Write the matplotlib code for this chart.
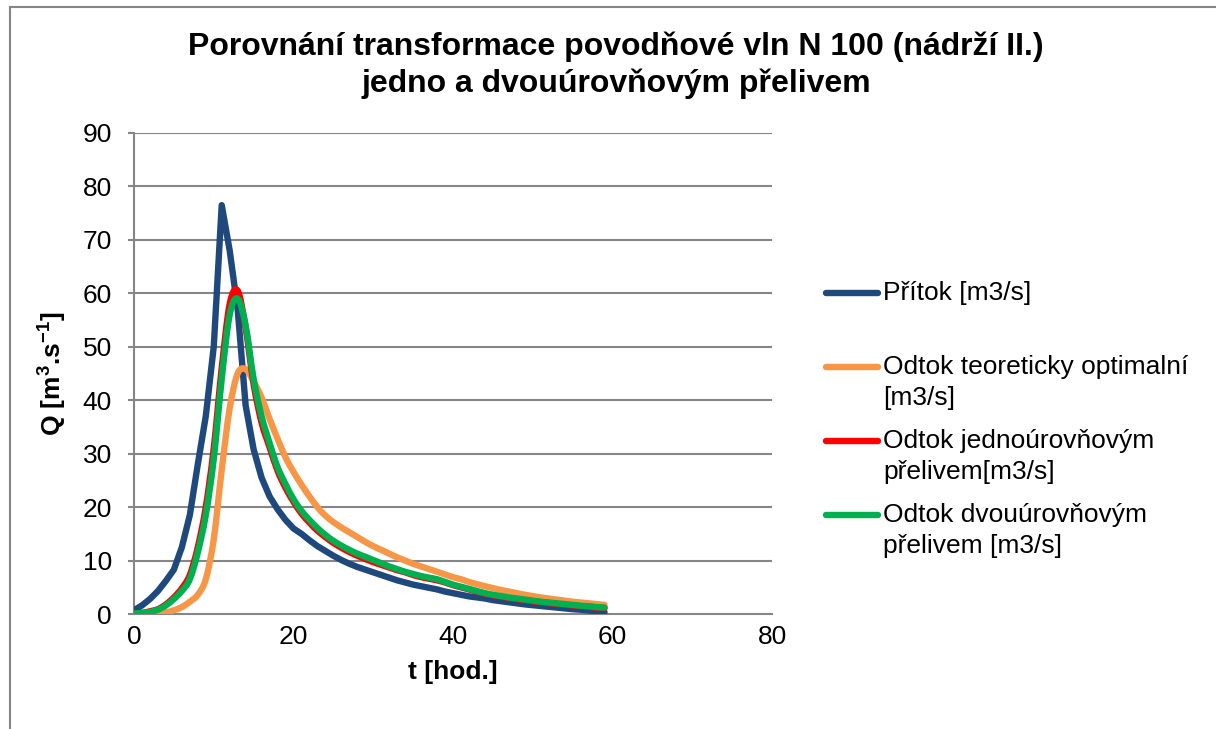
import matplotlib
matplotlib.use("Agg")
import matplotlib.pyplot as plt
from matplotlib.lines import Line2D
from matplotlib.path import Path
from matplotlib.patches import PathPatch

plt.rcParams['font.family'] = ['Liberation Sans', 'DejaVu Sans']
plt.rcParams['mathtext.fontset'] = 'custom'
plt.rcParams['mathtext.rm'] = 'Liberation Sans:bold'
plt.rcParams['mathtext.bf'] = 'Liberation Sans:bold'
plt.rcParams['mathtext.default'] = 'rm'

# hourly time axis [hod.]
t = list(range(60))

pritok = [0.7, 1.6, 2.8, 4.3, 6.2, 8.3, 12.5, 18.5, 28.0, 37.0,
          50.0, 76.5, 68.0, 57.0, 39.0, 30.8, 25.5, 22.0, 19.6, 17.6,
          16.0, 15.0, 13.8, 12.7, 11.8, 10.9, 10.1, 9.4, 8.8, 8.3,
          7.8, 7.3, 6.8, 6.3, 5.9, 5.5, 5.2, 4.9, 4.6, 4.2,
          3.9, 3.6, 3.3, 3.1, 2.9, 2.6, 2.4, 2.2, 2.0, 1.8,
          1.65, 1.5, 1.35, 1.2, 1.05, 0.9, 0.8, 0.65, 0.5, 0.35]

odtok_opt = [0.0, 0.0, 0.05, 0.15, 0.3, 0.7, 1.3, 2.3, 3.6, 6.5,
             14.0, 27.0, 38.5, 45.0, 45.8, 43.5, 40.5, 36.5, 32.8, 29.3,
             26.6, 24.2, 22.0, 20.0, 18.4, 17.2, 16.2, 15.3, 14.4, 13.5,
             12.7, 12.0, 11.3, 10.6, 10.0, 9.4, 8.9, 8.4, 7.9, 7.4,
             6.9, 6.5, 6.0, 5.6, 5.2, 4.85, 4.5, 4.2, 3.9, 3.6,
             3.35, 3.1, 2.9, 2.7, 2.5, 2.3, 2.15, 2.0, 1.85, 1.7]

odtok_jedno = [0.1, 0.2, 0.5, 0.9, 1.8, 3.1, 4.8, 7.3, 12.5, 20.0,
               31.0, 46.0, 58.0, 60.5, 53.5, 43.0, 35.8, 31.2, 26.8, 23.6,
               21.0, 18.8, 17.1, 15.6, 14.4, 13.3, 12.4, 11.6, 10.9, 10.3,
               9.7, 9.2, 8.7, 8.2, 7.8, 7.3, 6.9, 6.6, 6.3, 5.9,
               5.4, 5.0, 4.6, 4.2, 3.8, 3.5, 3.25, 3.0, 2.8, 2.6,
               2.4, 2.2, 2.05, 1.9, 1.75, 1.6, 1.45, 1.35, 1.2, 1.1]

odtok_dvou = [0.1, 0.2, 0.4, 0.8, 1.6, 2.8, 4.3, 6.5, 11.5, 18.5,
              29.0, 44.0, 56.0, 59.0, 54.0, 44.0, 37.0, 32.0, 27.5, 24.3,
              21.5, 19.3, 17.6, 16.1, 14.8, 13.7, 12.8, 12.0, 11.3, 10.7,
              10.1, 9.5, 8.9, 8.4, 7.9, 7.5, 7.1, 6.8, 6.5, 6.0,
              5.5, 5.1, 4.7, 4.3, 3.9, 3.6, 3.35, 3.1, 2.9, 2.7,
              2.5, 2.3, 2.15, 2.0, 1.85, 1.7, 1.55, 1.45, 1.3, 1.2]

# (values, colour, legend lines, smoothed line)
series = [
    (pritok, '#1F497D', ['Přítok [m3/s]'], False),
    (odtok_opt, '#F79646', ['Odtok teoreticky optimalní', '[m3/s]'], True),
    (odtok_jedno, '#FF0000', ['Odtok jednoúrovňovým', 'přelivem[m3/s]'], True),
    (odtok_dvou, '#00B050', ['Odtok dvouúrovňovým', 'přelivem [m3/s]'], True),
]

x_ticks = [0, 20, 40, 60, 80]
y_ticks = [0, 10, 20, 30, 40, 50, 60, 70, 80, 90]


def smooth_path(xs, ys):
    """Cubic Bezier path through the points (Catmull-Rom style tangents)."""
    n = len(xs)
    verts = [(xs[0], ys[0])]
    codes = [Path.MOVETO]
    for i in range(n - 1):
        i0 = max(i - 1, 0)
        i3 = min(i + 2, n - 1)
        c1 = (xs[i] + (xs[i + 1] - xs[i0]) / 6, ys[i] + (ys[i + 1] - ys[i0]) / 6)
        c2 = (xs[i + 1] - (xs[i3] - xs[i]) / 6, ys[i + 1] - (ys[i3] - ys[i]) / 6)
        verts += [c1, c2, (xs[i + 1], ys[i + 1])]
        codes += [Path.CURVE4] * 3
    return Path(verts, codes)


W, H = 1216, 729
fig = plt.figure(figsize=(W / 100, H / 100), dpi=100)
ax = fig.add_axes([134 / W, 1 - 614 / H, (772 - 134) / W, (614 - 133) / H])

grid_c = '#868686'
for yv in y_ticks[1:]:
    ax.axhline(yv, color=grid_c, lw=1.5, zorder=1)

LW = 4.6
for vals, col, _, smooth in series:
    if smooth:
        ax.add_patch(PathPatch(smooth_path(t, vals), facecolor='none',
                               edgecolor=col, lw=LW, capstyle='round',
                               joinstyle='round', zorder=3))
    else:
        ax.plot(t, vals, color=col, lw=LW, solid_capstyle='round',
                solid_joinstyle='round', zorder=3)

ax.set_xlim(0, 80)
ax.set_ylim(0, 90)
ax.set_xticks(x_ticks)
ax.set_yticks(y_ticks)
ax.tick_params(axis='both', labelsize=19, colors=grid_c, labelcolor='black')
ax.tick_params(axis='x', length=0, pad=8)
ax.tick_params(axis='y', length=4, width=1.5, pad=12)
for s in ['top', 'right']:
    ax.spines[s].set_visible(False)
for s in ['left', 'bottom']:
    ax.spines[s].set_color(grid_c)
    ax.spines[s].set_linewidth(1.5)

ax.set_xlabel('t [hod.]', fontsize=19, fontweight='bold', labelpad=8)
ax.set_ylabel('Q [m$^{3}$.s$^{-1}$]', fontsize=19, fontweight='bold', labelpad=10)

fig.text(616 / W, 1 - 47 / H, 'Porovnání transformace povodňové vln N 100 (nádrží II.)',
         ha='center', va='center', fontsize=23, fontweight='bold')
fig.text(616 / W, 1 - 84 / H, 'jedno a dvouúrovňovým přelivem',
         ha='center', va='center', fontsize=23, fontweight='bold')

# legend drawn at the right of the plot
leg_y = [293, 367, 441, 515]
for (vals, col, lines, _), yy in zip(series, leg_y):
    fig.add_artist(Line2D([826 / W, 878 / W], [1 - yy / H, 1 - yy / H],
                          color=col, lw=LW, solid_capstyle='round'))
    for k, txt in enumerate(lines):
        fig.text(883 / W, 1 - (yy + 31 * k) / H, txt, ha='left', va='center',
                 fontsize=19)

# chart area border
fig.add_artist(Line2D([10 / W, 1], [1 - 6.5 / H, 1 - 6.5 / H], color=grid_c, lw=1.5))
fig.add_artist(Line2D([10 / W, 10 / W], [0, 1 - 6.5 / H], color=grid_c, lw=1.5))

fig.savefig('out.png', dpi=100)
